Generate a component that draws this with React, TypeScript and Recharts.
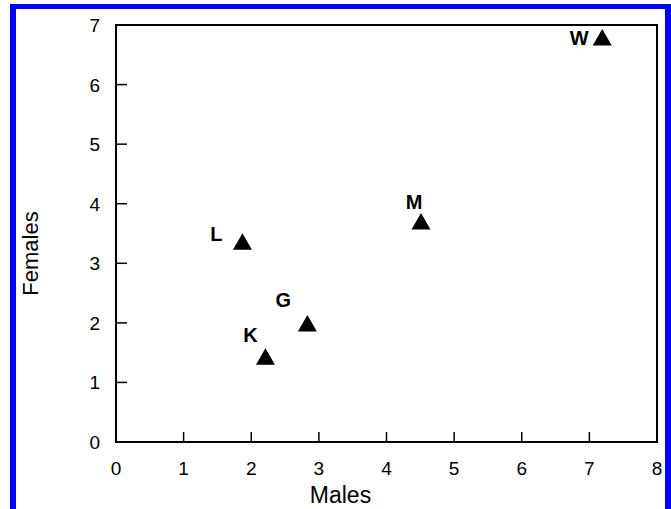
import { ScatterChart, Scatter, XAxis, YAxis, ReferenceArea, Label } from "recharts";

const sites = ["W", "M", "L", "G", "K"];
const males = [7.19, 4.51, 1.87, 2.83, 2.21];
const females = [6.79, 3.7, 3.36, 1.99, 1.43];
const xTicks = [0, 1, 2, 3, 4, 5, 6, 7, 8];
const yTicks = [0, 1, 2, 3, 4, 5, 6, 7];

// where each site letter sits relative to its triangle
const labelOffsets: Record<string, [number, number]> = {
  W: [-23, 0],
  M: [-7, -20],
  L: [-26, -8],
  G: [-24, -23],
  K: [-15, -22],
};

const points = sites.map((s, i) => ({ site: s, x: males[i], y: females[i] }));

const FONT = '"Liberation Sans", Arial, Helvetica, sans-serif';

const XTick = (props: any) => {
  const { x, y, payload } = props;
  return (
    <g>
      <line x1={x} y1={y} x2={x} y2={y - 10} stroke="#000" strokeWidth={1.5} />
      <text x={x} y={y + 33} textAnchor="middle" fontSize={19} fontFamily={FONT} fill="#000">
        {payload.value}
      </text>
    </g>
  );
};

const YTick = (props: any) => {
  const { x, y, payload } = props;
  return (
    <g>
      <line x1={x} y1={y} x2={x + 11} y2={y} stroke="#000" strokeWidth={1.5} />
      <text x={x - 16} y={y + 7} textAnchor="end" fontSize={19} fontFamily={FONT} fill="#000">
        {payload.value}
      </text>
    </g>
  );
};

const Triangle = (props: any) => {
  const { cx, cy, payload } = props;
  const [dx, dy] = labelOffsets[payload.site] ?? [0, -20];
  return (
    <g>
      <polygon
        points={`${cx},${cy - 8.5} ${cx - 9.5},${cy + 8} ${cx + 9.5},${cy + 8}`}
        fill="#000"
      />
      <text
        x={cx + dx}
        y={cy + dy}
        textAnchor="middle"
        dominantBaseline="central"
        fontSize={20}
        fontWeight="bold"
        fontFamily={FONT}
        fill="#000"
      >
        {payload.site}
      </text>
    </g>
  );
};

export default function App() {
  return (
    <div style={{ position: "absolute", left: 0, top: 0, width: 671, height: 509, overflow: "hidden", background: "#fff" }}>
      <div
        style={{
          position: "absolute",
          left: 10,
          top: 4,
          width: 649,
          height: 600,
          borderLeft: "6px solid #0000ff",
          borderTop: "5px solid #0000ff",
          borderRight: "6px solid #0000ff",
        }}
      />
      <div style={{ position: "absolute", left: 0, top: 0 }}>
        <ScatterChart width={671} height={509} margin={{ top: 25, right: 14, left: 56, bottom: 27 }}>
          <XAxis
            type="number"
            dataKey="x"
            domain={[0, 8]}
            ticks={xTicks}
            height={40}
            tickSize={0}
            tickMargin={0}
            tickLine={false}
            axisLine={{ stroke: "#000", strokeWidth: 2 }}
            tick={(p: any) => <XTick {...p} />}
            interval={0}
          >
            <Label
              content={(p: any) => {
                const vb = p.viewBox;
                return (
                  <text x={vb.x + vb.width / 2 - 46} y={503} textAnchor="middle" fontSize={23} fontFamily={FONT} fill="#000">
                    Males
                  </text>
                );
              }}
            />
          </XAxis>
          <YAxis
            type="number"
            dataKey="y"
            domain={[0, 7]}
            ticks={yTicks}
            width={60}
            tickSize={0}
            tickMargin={0}
            tickLine={false}
            axisLine={{ stroke: "#000", strokeWidth: 2 }}
            tick={(p: any) => <YTick {...p} />}
            interval={0}
          >
            <Label
              content={(p: any) => {
                const vb = p.viewBox;
                const cy = vb.y + vb.height / 2 + 20;
                return (
                  <text
                    x={30}
                    y={cy}
                    transform={`rotate(-90 30 ${cy})`}
                    textAnchor="middle"
                    dominantBaseline="central"
                    fontSize={22}
                    fontFamily={FONT}
                    fill="#000"
                  >
                    Females
                  </text>
                );
              }}
            />
          </YAxis>
          <ReferenceArea x1={0} x2={8} y1={0} y2={7} fill="none" stroke="#000" strokeWidth={2} />
          <Scatter data={points} shape={(p: any) => <Triangle {...p} />} isAnimationActive={false} />
        </ScatterChart>
      </div>
    </div>
  );
}
